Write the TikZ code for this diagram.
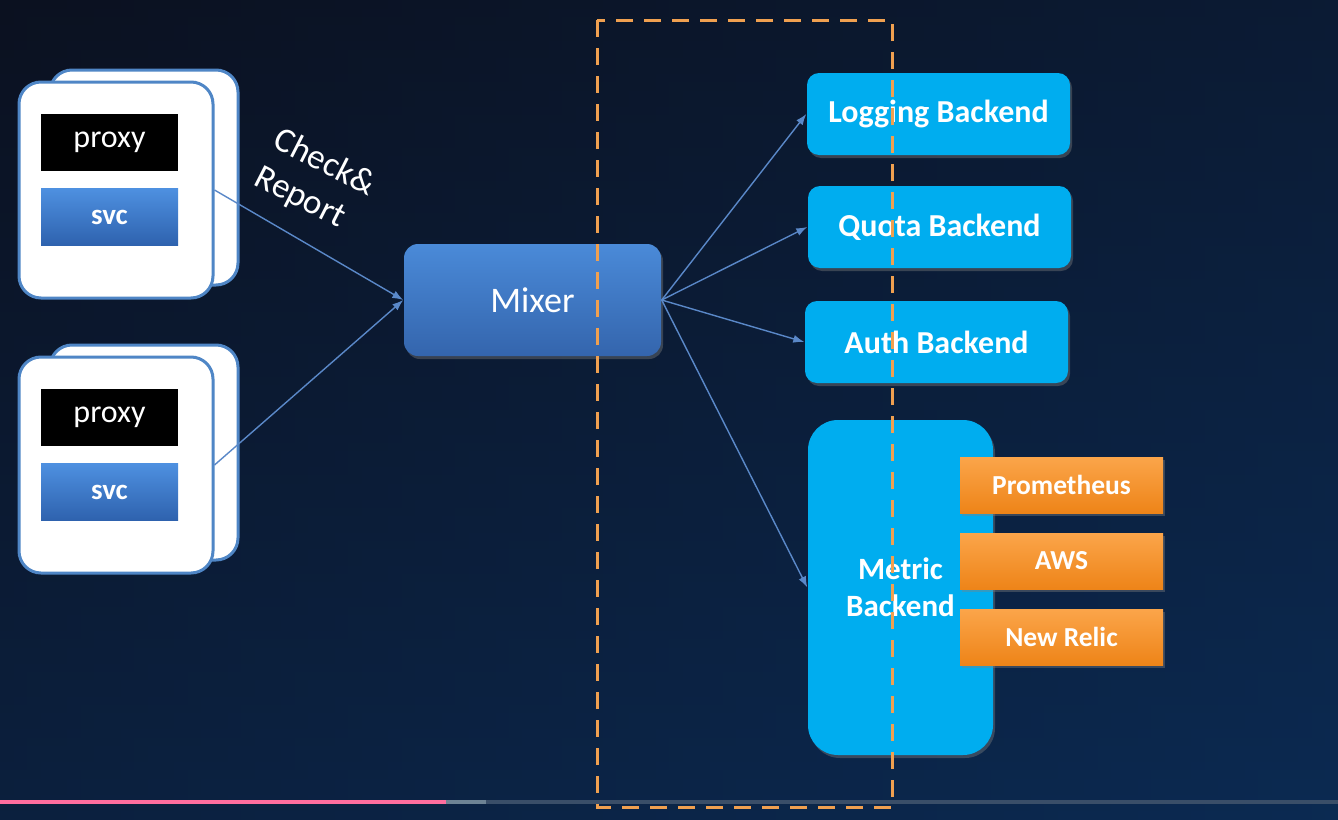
\documentclass[tikz,border=0pt]{standalone}
\usepackage{fontspec}
\setmainfont{Carlito}
\usetikzlibrary{shadows,arrows.meta}

\definecolor{bgtop}{HTML}{0B1120}
\definecolor{bgbot}{HTML}{0B2A52}
\definecolor{cardblue}{HTML}{4F86C6}
\definecolor{mixtop}{HTML}{4A8AD8}
\definecolor{mixbot}{HTML}{3465AD}
\definecolor{svctop}{HTML}{4E90E0}
\definecolor{svcbot}{HTML}{2E62AE}
\definecolor{cyanback}{HTML}{00ADEF}
\definecolor{orgtop}{HTML}{FBA54A}
\definecolor{orgbot}{HTML}{EE8418}
\definecolor{dashorg}{HTML}{F0A050}
\definecolor{arrowblue}{HTML}{5A88C8}
\definecolor{barpink}{HTML}{FF6E9E}
\definecolor{bargrey}{HTML}{6E8394}
\definecolor{bardim}{HTML}{3A4E68}

\def\fsize#1{\fontsize{#1}{#1}\selectfont}

\begin{document}
\begin{tikzpicture}[x=1pt,y=-1pt,->,>={Latex[length=11pt,width=8pt]},draw=arrowblue,line width=1.4pt]
    \tikzstyle{card}=[draw=cardblue,line width=3pt,fill=white,rounded corners=22pt,inner sep=0pt]
    \tikzstyle{proxybox}=[fill=black,text=white,minimum width=137pt,minimum height=57pt,inner sep=0pt,font=\fsize{32}]
    \tikzstyle{svcbox}=[top color=svctop,bottom color=svcbot,text=white,minimum width=137pt,minimum height=57pt,inner sep=0pt,font=\bfseries\fsize{29}]
    \tikzstyle{mixer}=[top color=mixtop,bottom color=mixbot,text=white,rounded corners=14pt,minimum width=257pt,minimum height=112pt,inner sep=0pt,font=\fsize{36},drop shadow={opacity=0.4,shadow xshift=2pt,shadow yshift=-3pt}]
    \tikzstyle{backend}=[fill=cyanback,text=white,rounded corners=12pt,minimum width=263pt,minimum height=82pt,inner sep=0pt,font=\bfseries\fsize{32},drop shadow={opacity=0.4,shadow xshift=2pt,shadow yshift=-3pt}]
    \tikzstyle{adapter}=[top color=orgtop,bottom color=orgbot,text=white,minimum width=203pt,minimum height=56pt,inner sep=0pt,font=\bfseries\fsize{27.5},drop shadow={opacity=0.4,shadow xshift=2pt,shadow yshift=-3pt}]
    \tikzstyle{annot}=[text=white,align=left,inner sep=0pt,font=\fontsize{35}{42}\selectfont]

    \useasboundingbox (0,0) rectangle (1338,819);
    \shade[top color=bgtop,bottom color=bgbot] (0,0) rectangle (1338,819);
    \shade[left color=bgtop,right color=bgbot,opacity=0.4] (0,0) rectangle (1338,819);

    %%% DRAW THE NODES
    \foreach \name / \y in {1/0,2/275}{
        \node[card,minimum width=188pt,minimum height=215pt] (K-\name) at (144,177.5+\y) {};
        \node[card,minimum width=194pt,minimum height=216pt] (F-\name) at (116,190+\y) {};
        \node[proxybox] (X-\name) at (109.5,142+\y) {proxy};
        \node[svcbox] (S-\name) at (109.5,217+\y) {svc};
    }

    \node[mixer] (M) at (532.5,300) {Mixer};

    \foreach \name / \x / \y / \txt in {1/938.5/114/Logging Backend,2/939.5/227/Quota Backend,3/936.5/342/Auth Backend}
        \node[backend] (B-\name) at (\x,\y) {\txt};
    \node[backend,rounded corners=30pt,minimum width=185pt,minimum height=335pt,align=center,font=\bfseries\fontsize{31}{37}\selectfont] (B-4) at (900.5,587.5) {Metric\\Backend};

    \foreach \name / \y / \txt in {1/485/Prometheus,2/561/AWS,3/637/New Relic}
        \node[adapter] (A-\name) at (1061.5,\y) {\txt};

    %%% DRAW THE PATHS
    \foreach \source in {1,2}
        \draw (F-\source.east) -- (M.west);
    \foreach \dest in {1,...,4}
        \draw (M.east) -- (B-\dest.west);

    %%% ANOTATE
    \node[annot,rotate=-27] (cr) at (315,182) {Check\&\\Report};

    \draw[-,draw=dashorg,line width=3pt,dash pattern=on 17pt off 11pt] (597,20) rectangle (892,807);

    \fill[barpink] (0,800) rectangle (446,804);
    \fill[bargrey] (446,800) rectangle (486,804);
    \fill[bardim] (486,800) rectangle (1338,804);
\end{tikzpicture}
\end{document}
